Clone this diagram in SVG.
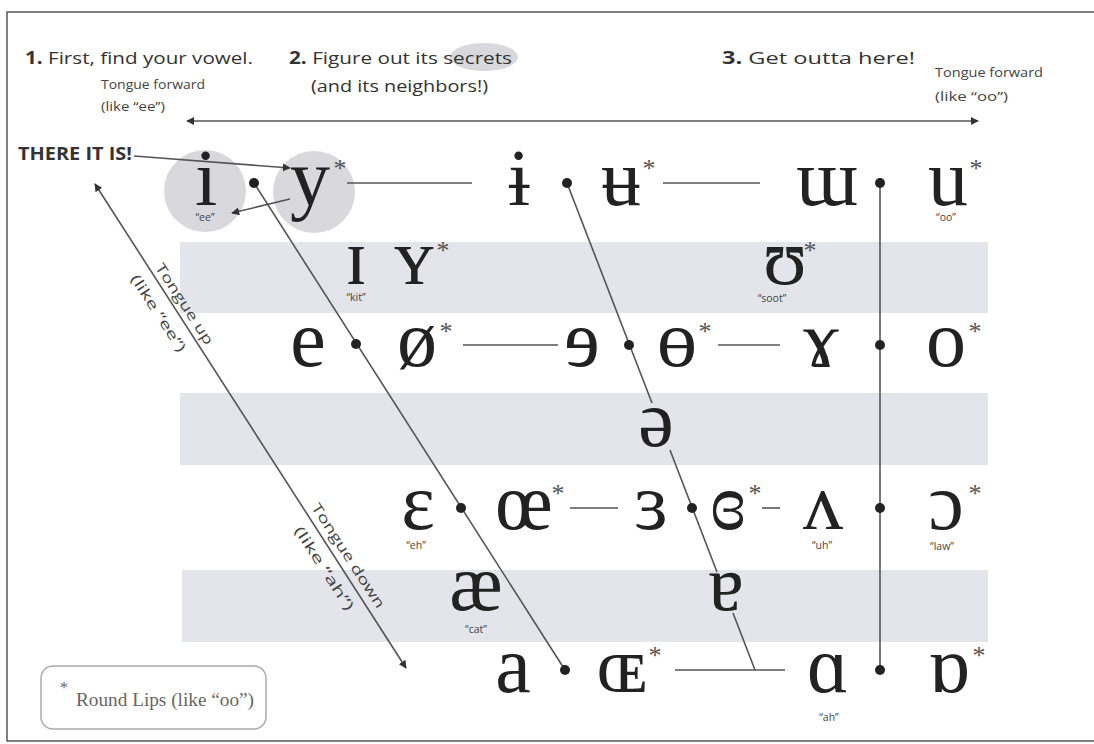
<svg xmlns="http://www.w3.org/2000/svg" width="1094" height="744" viewBox="0 0 1094 744">
<style>
.h{font-family:"Open Sans","Liberation Sans",sans-serif;font-size:17px;fill:#333}
.b{font-weight:bold}
.sm{font-family:"Open Sans","Liberation Sans",sans-serif;font-size:12.5px;fill:#444}
.tg{font-family:"Open Sans","Liberation Sans",sans-serif;font-size:14px;fill:#444}
.v{font-family:"Liberation Serif","Times New Roman",serif;font-size:80px;fill:#222;text-anchor:middle}
.st{font-family:"Liberation Serif","Times New Roman",serif;font-size:26px;fill:#555;text-anchor:middle}
.lb{font-family:"Open Sans","Liberation Sans",sans-serif;font-size:10.5px;fill:#444;text-anchor:middle}
.ln{stroke:#555;stroke-width:1.6;fill:none}
.dot{fill:#222}
.band{fill:#e4e5ea}
.hl{fill:#d9d9dd}
</style>
<defs>
<marker id="ah" viewBox="0 0 10 10" refX="9" refY="5" markerWidth="8" markerHeight="8" markerUnits="userSpaceOnUse" orient="auto-start-reverse">
<path d="M0,0 L10,5 L0,10 z" fill="#333"/>
</marker>
</defs>
<rect x="0" y="0" width="1094" height="744" fill="#fff"/>
<rect x="7" y="12" width="1100" height="729" fill="none" stroke="#555" stroke-width="1.5"/>

<g id="bands">
<rect class="band" x="180" y="242" width="808" height="71"/>
<rect class="band" x="180" y="393" width="808" height="72"/>
<rect class="band" x="182" y="570" width="806" height="72"/>
</g>

<g id="header">
<ellipse class="hl" cx="484" cy="57" rx="34" ry="14"/>
<text class="h" x="25" y="64" textLength="228" lengthAdjust="spacingAndGlyphs"><tspan class="b">1.</tspan> First, find your vowel.</text>
<text class="h" x="289" y="64" textLength="223" lengthAdjust="spacingAndGlyphs"><tspan class="b">2.</tspan> Figure out its secrets</text>
<text class="h" x="311" y="92" textLength="177" lengthAdjust="spacingAndGlyphs">(and its neighbors!)</text>
<text class="h" x="722" y="64" textLength="193" lengthAdjust="spacingAndGlyphs"><tspan class="b">3.</tspan> Get outta here!</text>
<text class="sm" x="101" y="89" textLength="104" lengthAdjust="spacingAndGlyphs">Tongue forward</text>
<text class="sm" x="101" y="111" textLength="64" lengthAdjust="spacingAndGlyphs">(like “ee”)</text>
<text class="sm" x="935" y="77" textLength="108" lengthAdjust="spacingAndGlyphs">Tongue forward</text>
<text class="sm" x="935" y="101" textLength="73" lengthAdjust="spacingAndGlyphs">(like “oo”)</text>
<text class="h b" x="18" y="160" font-size="16" textLength="114" lengthAdjust="spacingAndGlyphs">THERE IT IS!</text>
</g>

<g id="highlights">
<circle class="hl" cx="205" cy="191" r="41"/>
<circle class="hl" cx="314" cy="192" r="41"/>
</g>

<g id="connectors">
<line class="ln" x1="187" y1="121" x2="978" y2="121" marker-start="url(#ah)" marker-end="url(#ah)"/>
<line class="ln" x1="95" y1="184" x2="406" y2="668" marker-start="url(#ah)" marker-end="url(#ah)"/>
<line class="ln" x1="134" y1="156" x2="290" y2="168" marker-end="url(#ah)"/>
<line class="ln" x1="290" y1="199" x2="232" y2="213" marker-end="url(#ah)"/>
<line class="ln" x1="254" y1="183" x2="565" y2="670"/>
<line class="ln" x1="567" y1="183" x2="652" y2="403"/>
<line class="ln" x1="670" y1="450" x2="717" y2="572"/>
<line class="ln" x1="733" y1="613" x2="755" y2="670"/>
<line class="ln" x1="880" y1="183" x2="880" y2="670"/>
<line class="ln" x1="347" y1="183" x2="472" y2="183"/>
<line class="ln" x1="663" y1="183" x2="760" y2="183"/>
<line class="ln" x1="463" y1="345" x2="558" y2="345"/>
<line class="ln" x1="718" y1="345" x2="780" y2="345"/>
<line class="ln" x1="570" y1="508" x2="618" y2="508"/>
<line class="ln" x1="762" y1="508" x2="780" y2="508"/>
<line class="ln" x1="675" y1="670" x2="785" y2="670"/>
</g>

<g id="dots">
<circle class="dot" cx="254" cy="183" r="5"/>
<circle class="dot" cx="567" cy="183" r="5"/>
<circle class="dot" cx="880" cy="183" r="5"/>
<circle class="dot" cx="356" cy="344" r="5"/>
<circle class="dot" cx="629" cy="345" r="5"/>
<circle class="dot" cx="880" cy="345" r="5"/>
<circle class="dot" cx="461" cy="508" r="5"/>
<circle class="dot" cx="692" cy="508" r="5"/>
<circle class="dot" cx="880" cy="508" r="5"/>
<circle class="dot" cx="565" cy="670" r="5"/>
<circle class="dot" cx="880" cy="670" r="5"/>
</g>

<g id="tongue-labels">
<g transform="translate(149,271) rotate(57)">
<text class="tg" x="0" y="-7" textLength="94" lengthAdjust="spacingAndGlyphs">Tongue up</text>
<text class="tg" x="-4" y="20" textLength="89" lengthAdjust="spacingAndGlyphs">(like “ee”)</text>
</g>
<g transform="translate(305,511) rotate(57)">
<text class="tg" x="0" y="-7" textLength="122" lengthAdjust="spacingAndGlyphs">Tongue down</text>
<text class="tg" x="10" y="20" textLength="97" lengthAdjust="spacingAndGlyphs">(like “ah”)</text>
</g>
</g>

<g id="v-i"><text class="v" x="206" y="205">i</text><text class="lb" x="205" y="221">“ee”</text></g>
<g id="v-y"><text class="v" x="310" y="205">y</text><text class="st" x="340" y="177">*</text></g>
<g id="v-barred-i"><text class="v" x="519" y="205">ɨ</text></g>
<g id="v-barred-u"><text class="v" x="621" y="205">ʉ</text><text class="st" x="649" y="177">*</text></g>
<g id="v-turned-m"><text class="v" x="827" y="205">ɯ</text></g>
<g id="v-u"><text class="v" x="948" y="205">u</text><text class="st" x="976" y="177">*</text><text class="lb" x="946" y="221">“oo”</text></g>

<g id="v-small-i"><text class="v" x="356" y="284">ɪ</text><text class="lb" x="356" y="301">“kit”</text></g>
<g id="v-small-y"><text class="v" x="414" y="284">ʏ</text><text class="st" x="443" y="259">*</text></g>
<g id="v-upsilon"><text class="v" x="785" y="284">ʊ</text><text class="st" x="810" y="259">*</text><text class="lb" x="772" y="302">“soot”</text></g>

<g id="v-e"><text class="v" x="308" y="366">e</text></g>
<g id="v-oslash"><text class="v" x="417" y="366">ø</text><text class="st" x="446" y="340">*</text></g>
<g id="v-rev-e"><text class="v" x="582" y="366">ɘ</text></g>
<g id="v-barred-o"><text class="v" x="677" y="366">ɵ</text><text class="st" x="705" y="340">*</text></g>
<g id="v-rams-horn"><text class="v" x="821" y="366">ɤ</text></g>
<g id="v-o"><text class="v" x="946" y="366">o</text><text class="st" x="975" y="340">*</text></g>

<g id="v-schwa"><text class="v" x="656" y="446">ə</text></g>

<g id="v-epsilon"><text class="v" x="418" y="529">ɛ</text><text class="lb" x="416" y="549">“eh”</text></g>
<g id="v-oe"><text class="v" x="524" y="529">œ</text><text class="st" x="558" y="502">*</text></g>
<g id="v-rev-epsilon"><text class="v" x="651" y="529">ɜ</text></g>
<g id="v-closed-rev-epsilon"><text class="v" x="728" y="529">ɞ</text><text class="st" x="755" y="502">*</text></g>
<g id="v-turned-v"><text class="v" x="823" y="529">ʌ</text><text class="lb" x="822" y="549">“uh”</text></g>
<g id="v-open-o"><text class="v" x="946" y="529">ɔ</text><text class="st" x="975" y="502">*</text><text class="lb" x="942" y="550">“law”</text></g>

<g id="v-ae"><text class="v" x="476" y="610">æ</text><text class="lb" x="476" y="633">“cat”</text></g>
<g id="v-turned-a"><text class="v" x="726" y="610">ɐ</text></g>

<g id="v-a"><text class="v" x="513" y="692">a</text></g>
<g id="v-small-oe"><text class="v" x="622" y="692">ɶ</text><text class="st" x="655" y="664">*</text></g>
<g id="v-script-a"><text class="v" x="828" y="692">ɑ</text><text class="lb" x="829" y="721">“ah”</text></g>
<g id="v-turned-script-a"><text class="v" x="949" y="692">ɒ</text><text class="st" x="979" y="664">*</text></g>

<g id="legend">
<rect x="41" y="666" width="225" height="63" rx="12" fill="#fff" stroke="#aaa" stroke-width="1.5"/>
<text x="64" y="693" font-family="Liberation Serif, serif" font-size="16" fill="#666" text-anchor="middle">*</text>
<text x="76" y="706" font-family="Liberation Serif, serif" font-size="18" fill="#666" textLength="178" lengthAdjust="spacingAndGlyphs">Round Lips (like “oo”)</text>
</g>
</svg>
